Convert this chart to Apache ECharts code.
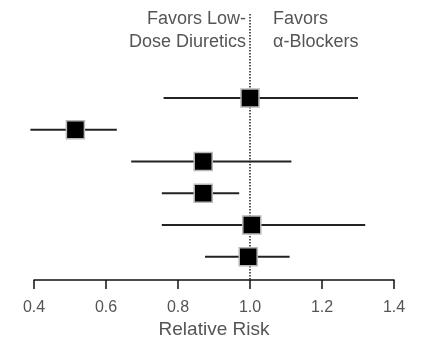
<!DOCTYPE html>
<html><head><meta charset="utf-8">
<script src="https://cdn.jsdelivr.net/npm/echarts@6/dist/echarts.min.js"></script>
<style>html,body{margin:0;padding:0;background:#fff}#c{width:425px;height:344px}</style>
</head><body><div id="c"></div>
<script>
var rows = [1, 2, 3, 4, 5, 6];
var estimates = [1.00, 0.515, 0.87, 0.87, 1.005, 0.995];
var lower = [0.76, 0.39, 0.67, 0.755, 0.755, 0.875];
var upper = [1.30, 0.63, 1.115, 0.97, 1.32, 1.11];
var xTicks = [0.4, 0.6, 0.8, 1.0, 1.2, 1.4];
var leftLabel = ['Favors Low-', 'Dose Diuretics'];
var rightLabel = ['Favors', 'α-Blockers'];
var axisTitle = 'Relative Risk';

var data = rows.map(function (r, i) { return [estimates[i], r, lower[i], upper[i]]; });
var font = '"Liberation Sans", Arial, sans-serif';
var chart = echarts.init(document.getElementById('c'));
chart.setOption({
  animation: false,
  grid: { left: 34, right: 31, top: 14, bottom: 61 },
  xAxis: {
    type: 'value', min: 0.4, max: 1.4, interval: 0.2,
    splitLine: { show: false },
    axisLine: { onZero: false, lineStyle: { color: '#111', width: 1.5 } },
    axisTick: { length: 9, lineStyle: { color: '#111', width: 1.5 } },
    axisLabel: { color: '#555', fontFamily: font, fontSize: 16, margin: 19,
      formatter: function (v) { return v.toFixed(1); } },
    name: axisTitle, nameLocation: 'middle', nameGap: 32,
    nameTextStyle: { color: '#555', fontFamily: font, fontSize: 19 }
  },
  yAxis: {
    type: 'value', min: -1.65, max: 6.74, inverse: true, show: false
  },
  series: [
    {
      type: 'line', data: [[1, -1.65], [1, 6.74]], symbol: 'none',
      lineStyle: { color: '#222', width: 1.5, type: [1.5, 1.5] }, z: 1
    },
    {
      type: 'custom', z: 2,
      renderItem: function (params, api) {
        var c = api.coord([api.value(0), api.value(1)]);
        var lo = api.coord([api.value(2), api.value(1)]);
        var hi = api.coord([api.value(3), api.value(1)]);
        var s = 18;
        return {
          type: 'group',
          children: [
            { type: 'line', shape: { x1: lo[0], y1: lo[1], x2: hi[0], y2: hi[1] },
              style: { stroke: '#222', lineWidth: 2 } },
            { type: 'rect', shape: { x: c[0] - s / 2, y: c[1] - s / 2, width: s, height: s },
              style: { fill: '#000', stroke: '#b8b8b8', lineWidth: 1.5 } }
          ]
        };
      },
      data: data
    }
  ],
  graphic: [
    { type: 'text', x: 246, y: 8,
      style: { text: leftLabel.join('\n'), fill: '#555', font: '18px ' + font, align: 'right', verticalAlign: 'top', lineHeight: 23 } },
    { type: 'text', x: 273, y: 8,
      style: { text: rightLabel.join('\n'), fill: '#555', font: '18px ' + font, align: 'left', verticalAlign: 'top', lineHeight: 23 } }
  ]
});
</script></body></html>
